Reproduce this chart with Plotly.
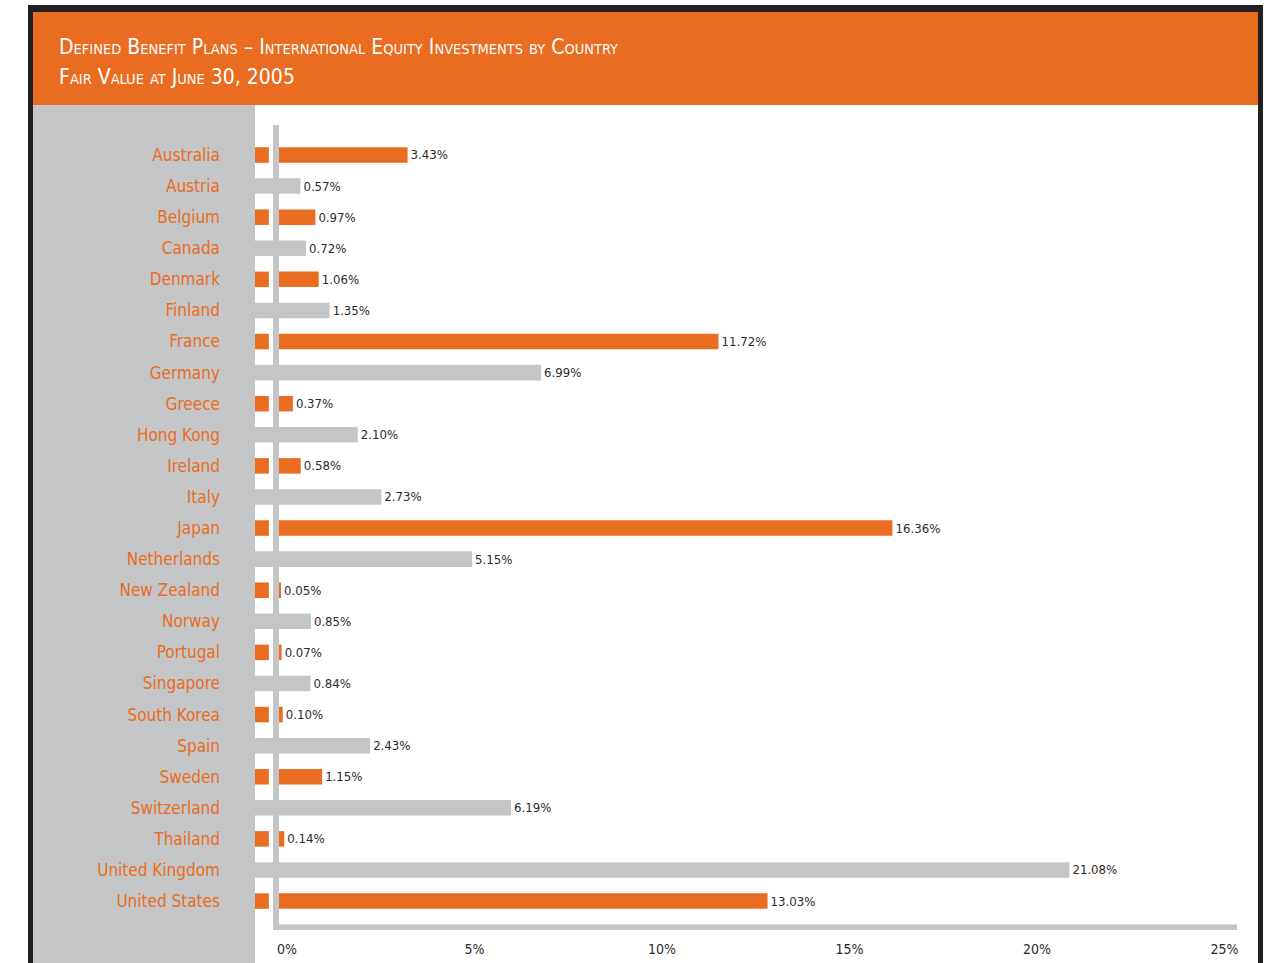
import plotly.graph_objs as go

countries = [
    "Australia", "Austria", "Belgium", "Canada", "Denmark", "Finland", "France",
    "Germany", "Greece", "Hong Kong", "Ireland", "Italy", "Japan", "Netherlands",
    "New Zealand", "Norway", "Portugal", "Singapore", "South Korea", "Spain",
    "Sweden", "Switzerland", "Thailand", "United Kingdom", "United States"]

values = [
    3.43, 0.57, 0.97, 0.72, 1.06, 1.35, 11.72, 6.99, 0.37, 2.10, 0.58, 2.73,
    16.36, 5.15, 0.05, 0.85, 0.07, 0.84, 0.10, 2.43, 1.15, 6.19, 0.14, 21.08, 13.03]

x_ticks = [0, 5, 10, 15, 20, 25]

title1 = "Defined Benefit Plans – International Equity Investments by Country"
title2 = "Fair Value at June 30, 2005"

ORANGE = "#e96c20"
GREY = "#c4c5c7"
DARK = "#2e2b2c"
FONT = "DejaVu Sans Condensed, Liberation Sans Narrow, sans-serif"

# plot area in pixels
L, R, T, B = 255, 1237, 125, 930
STUB = -0.64   # bars start left of the zero line


def px_x(p):
    return (p - L) / (R - L)


def px_y(p):
    return (B - p) / (B - T)


def small_caps(s, big, small):
    out = ""
    run = ""
    for ch in s:
        if ch.islower():
            run += ch.upper()
        else:
            if run:
                out += "<span style='font-size:%gpx'>%s</span>" % (small, run)
                run = ""
            out += ch
    if run:
        out += "<span style='font-size:%gpx'>%s</span>" % (small, run)
    return "<span style='font-size:%gpx'>%s</span>" % (big, out)


orange_idx = [i for i in range(len(countries)) if i % 2 == 0]
grey_idx = [i for i in range(len(countries)) if i % 2 == 1]

traces = []

# grey rows: one piece from the stub edge to the value
traces.append(go.Bar(
    y=[countries[i] for i in grey_idx],
    x=[values[i] - STUB for i in grey_idx],
    base=STUB,
    orientation='h',
    marker=dict(color=GREY, line=dict(width=0)),
    width=0.5,
    text=["%.2f%%" % values[i] for i in grey_idx],
    textposition='outside',
    textfont=dict(color=DARK, size=16),
    cliponaxis=False,
    hoverinfo='skip'
))

# orange rows: short stub left of the axis, then the bar from zero
traces.append(go.Bar(
    y=[countries[i] for i in orange_idx],
    x=[-STUB - 0.27 for i in orange_idx],
    base=STUB,
    orientation='h',
    marker=dict(color=ORANGE, line=dict(width=0)),
    width=0.5,
    hoverinfo='skip'
))
traces.append(go.Bar(
    y=[countries[i] for i in orange_idx],
    x=[values[i] for i in orange_idx],
    base=0,
    orientation='h',
    marker=dict(color=ORANGE, line=dict(width=0)),
    width=0.5,
    text=["%.2f%%" % values[i] for i in orange_idx],
    textposition='outside',
    textfont=dict(color=DARK, size=16),
    cliponaxis=False,
    hoverinfo='skip'
))

shapes = [
    # frame, header, grey side panel
    dict(type='rect', xref='paper', yref='paper', layer='below',
         x0=px_x(28), x1=px_x(1263), y0=px_y(1000), y1=px_y(5),
         fillcolor='#231f20', line=dict(width=0)),
    dict(type='rect', xref='paper', yref='paper', layer='below',
         x0=px_x(33), x1=px_x(1258), y0=px_y(1000), y1=px_y(12),
         fillcolor='white', line=dict(width=0)),
    dict(type='rect', xref='paper', yref='paper', layer='below',
         x0=px_x(33), x1=px_x(1258), y0=px_y(105), y1=px_y(12),
         fillcolor=ORANGE, line=dict(width=0)),
    dict(type='rect', xref='paper', yref='paper', layer='below',
         x0=px_x(33), x1=px_x(255), y0=px_y(1000), y1=px_y(105),
         fillcolor=GREY, line=dict(width=0)),
    # axis lines
    dict(type='rect', xref='x', yref='paper', layer='above',
         x0=-0.16, x1=0, y0=0, y1=1,
         fillcolor=GREY, line=dict(width=0)),
    dict(type='rect', xref='x', yref='paper', layer='above',
         x0=-0.16, x1=25.55, y0=0, y1=px_y(924.5),
         fillcolor=GREY, line=dict(width=0)),
]

annotations = [
    dict(xref='paper', yref='paper', x=px_x(57), y=px_y(47), xanchor='left', yanchor='middle',
         text=small_caps(title1, 21, 14.5), showarrow=False, font=dict(color='white', family=FONT)),
    dict(xref='paper', yref='paper', x=px_x(57), y=px_y(77), xanchor='left', yanchor='middle',
         text=small_caps(title2, 21, 14.5), showarrow=False, font=dict(color='white', family=FONT)),
]

layout = go.Layout(
    width=1268,
    height=963,
    margin=dict(l=L, r=1268 - R, t=T, b=963 - B),
    paper_bgcolor='white',
    plot_bgcolor='rgba(0,0,0,0)',
    font=dict(family=FONT, color=DARK),
    barmode='overlay',
    showlegend=False,
    xaxis=dict(
        range=[STUB, 25.55],
        tickmode='array',
        tickvals=x_ticks,
        ticktext=["%d%%" % v for v in x_ticks],
        ticks='',
        showgrid=False,
        zeroline=False,
        showline=False,
        tickfont=dict(size=14, color=DARK),
        ticklabelstandoff=9,
        ticklabelshift=8,
        automargin=False,
    ),
    yaxis=dict(
        type='category',
        categoryorder='array',
        categoryarray=countries,
        range=[24.93, -0.965],
        ticks='',
        showgrid=False,
        zeroline=False,
        showline=False,
        tickfont=dict(size=17, color=ORANGE),
        ticklabelstandoff=34,
        automargin=False,
    ),
    shapes=shapes,
    annotations=annotations,
)

fig = go.Figure(data=traces, layout=layout)
fig.write_html("out.html", config=dict(displayModeBar=False),
               post_script="document.body.style.margin='0';")
